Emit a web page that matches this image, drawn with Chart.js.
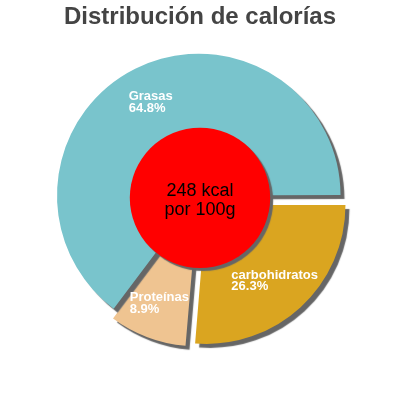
<!DOCTYPE html>
<html>
<head>
<meta charset="utf-8">
<script src="https://cdn.jsdelivr.net/npm/chart.js@4/dist/chart.umd.min.js"></script>
<style>
  html, body { margin: 0; padding: 0; background: #fff; }
  canvas { display: block; }
</style>
</head>
<body>
<canvas id="caloriesChart" width="400" height="400"></canvas>
<script>
// data, clockwise from 3 o'clock
const categories = ['carbohidratos', 'Proteínas', 'Grasas'];
const percents = [26.3, 8.9, 64.8];
const centerLines = ['248 kcal', 'por 100g'];
const chartTitle = 'Distribución de calorías';

const sliceColors = ['#daa520', '#efc491', '#79c4cc'];
const sliceOffsets = [38, 27, 11];
const FONT = "'Liberation Sans', Arial, sans-serif";
const SHADOW = '#666666';

// same translation the arc element applies for its offset
function arcShift(arc) {
  const off = (arc.options.offset || 0) / 4;
  const circ = arc.endAngle - arc.startAngle;
  const fix = 1 - Math.sin(Math.min(Math.PI, circ));
  return off * (1 + fix);
}

const shadowPlugin = {
  id: 'shadow',
  beforeDatasetsDraw(chart) {
    const ctx = chart.ctx;
    ctx.save();
    ctx.shadowColor = SHADOW;
    ctx.shadowOffsetX = 4;
    ctx.shadowOffsetY = 4;
    ctx.shadowBlur = 1;
  },
  afterDatasetsDraw(chart) {
    chart.ctx.restore();
  }
};

const decorPlugin = {
  id: 'decor',
  afterDatasetsDraw(chart) {
    const ctx = chart.ctx;
    const meta = chart.getDatasetMeta(0);
    const first = meta.data[0];
    const cx = first.x, cy = first.y;
    const R = first.outerRadius;

    // slice labels
    ctx.save();
    ctx.fillStyle = '#ffffff';
    ctx.font = 'bold 13px ' + FONT;
    ctx.textAlign = 'left';
    ctx.textBaseline = 'alphabetic';
    meta.data.forEach((arc, i) => {
      const mid = (arc.startAngle + arc.endAngle) / 2;
      const r = arcShift(arc) + R * 0.735;
      const ax = cx + Math.cos(mid) * r;
      const ay = cy + Math.sin(mid) * r;
      const lines = [categories[i], percents[i].toFixed(1) + '%'];
      const w = Math.max(...lines.map(l => ctx.measureText(l).width));
      ctx.fillText(lines[0], ax - w / 2 - 1, ay - 1.5);
      ctx.fillText(lines[1], ax - w / 2 - 1, ay + 10);
    });
    ctx.restore();

    // red centre disc
    ctx.save();
    ctx.shadowColor = SHADOW;
    ctx.shadowOffsetX = 3;
    ctx.shadowOffsetY = 3;
    ctx.shadowBlur = 1;
    ctx.beginPath();
    ctx.arc(cx, cy, R * 0.505, 0, Math.PI * 2);
    ctx.fillStyle = '#ff0000';
    ctx.fill();
    ctx.restore();

    ctx.save();
    ctx.fillStyle = '#000000';
    ctx.font = '18px ' + FONT;
    ctx.textAlign = 'center';
    ctx.textBaseline = 'alphabetic';
    ctx.fillText(centerLines[0], cx, cy - 2);
    ctx.fillText(centerLines[1], cx, cy + 17);
    ctx.restore();
  }
};

new Chart(document.getElementById('caloriesChart'), {
  type: 'pie',
  data: {
    labels: categories,
    datasets: [{
      data: percents,
      backgroundColor: sliceColors,
      hoverBackgroundColor: sliceColors,
      offset: sliceOffsets,
      hoverOffset: 0,
      borderWidth: 0,
      radius: 139
    }]
  },
  options: {
    responsive: false,
    animation: false,
    rotation: 90,
    layout: { padding: { top: 0, bottom: 36, left: 0, right: 0 } },
    plugins: {
      legend: { display: false },
      tooltip: { enabled: false },
      title: {
        display: true,
        text: chartTitle,
        color: '#444444',
        font: { family: FONT, size: 24, weight: 'bold' },
        padding: { top: 3, bottom: 0 }
      }
    }
  },
  plugins: [shadowPlugin, decorPlugin]
});
</script>
</body>
</html>
